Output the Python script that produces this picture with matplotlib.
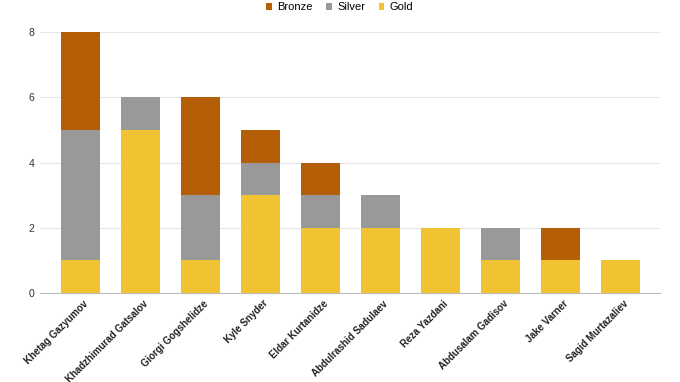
import matplotlib
matplotlib.use("Agg")
import matplotlib.pyplot as plt
import matplotlib.transforms as mtrans
import numpy as np

plt.rcParams['font.family'] = ['Liberation Sans', 'DejaVu Sans']

wrestlers = ["Khetag Gazyumov", "Khadzhimurad Gatsalov", "Giorgi Gogshelidze",
             "Kyle Snyder", "Eldar Kurtanidze", "Abdulrashid Sadulaev",
             "Reza Yazdani", "Abdusalam Gadisov", "Jake Varner", "Sagid Murtazaliev"]
gold = [1, 5, 1, 3, 2, 2, 2, 1, 1, 1]
silver = [4, 1, 2, 1, 1, 1, 0, 1, 0, 0]
bronze = [3, 0, 3, 1, 1, 0, 0, 0, 1, 0]

c_gold = "#f1c232"
c_silver = "#999999"
c_bronze = "#b45f06"

fig = plt.figure(figsize=(6.8, 3.82), dpi=100)
ax = fig.add_axes([0.0588, 0.233, 0.912, 0.683])

x = np.arange(len(wrestlers))
g = np.array(gold)
s = np.array(silver)
b = np.array(bronze)
w = 0.65
ax.bar(x, g, w, color=c_gold, label="Gold", zorder=3)
ax.bar(x, s, w, bottom=g, color=c_silver, label="Silver", zorder=3)
ax.bar(x, b, w, bottom=g + s, color=c_bronze, label="Bronze", zorder=3)

ax.set_xlim(-0.667, 9.667)
ax.set_ylim(0, 8)
ax.set_yticks([0, 2, 4, 6, 8])
ax.grid(axis="y", color="#e6e6e6", linewidth=0.8, zorder=0)
for sp in ["left", "right", "top"]:
    ax.spines[sp].set_visible(False)
ax.spines["bottom"].set_color("#bbbbbb")
ax.tick_params(axis="y", length=0, pad=4, labelsize=7.5, labelcolor="#333333")
ax.tick_params(axis="x", length=0, pad=4)
ax.set_xticks(x)
ax.set_xticklabels(wrestlers, rotation=45, ha="right", rotation_mode="anchor",
                   fontsize=7, fontweight="bold", color="#222222")
shift = mtrans.ScaledTranslation(3 / 100, 0, fig.dpi_scale_trans)
for lbl in ax.get_xticklabels():
    lbl.set_transform(lbl.get_transform() + shift)

handles, labels = ax.get_legend_handles_labels()
fig.legend(handles[::-1], labels[::-1], loc="upper center", bbox_to_anchor=(0.5, 1.02),
           ncol=3, frameon=False, fontsize=8, handlelength=0.5, handleheight=0.5,
           handletextpad=0.5, columnspacing=1.2)

fig.savefig("out.png", dpi=100)
